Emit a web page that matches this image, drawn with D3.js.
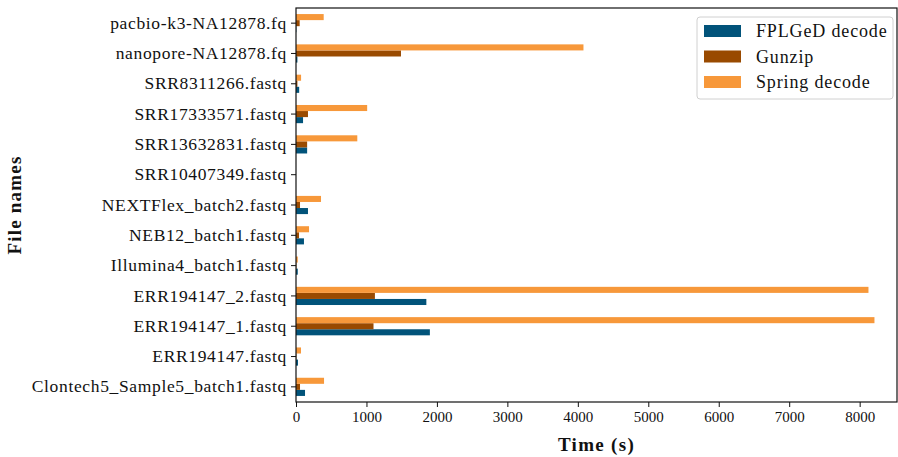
<!DOCTYPE html>
<html>
<head>
<meta charset="utf-8">
<script src="https://cdn.jsdelivr.net/npm/d3@7"></script>
<style>
  body { margin: 0; background: #fff; }
  svg { display: block; }
  text { font-family: "Liberation Serif", "DejaVu Serif", serif; fill: #111; }
</style>
</head>
<body>
<svg id="chart" width="898" height="457"></svg>
<script>
// Categories listed top to bottom
const categories = [
  "pacbio-k3-NA12878.fq",
  "nanopore-NA12878.fq",
  "SRR8311266.fastq",
  "SRR17333571.fastq",
  "SRR13632831.fastq",
  "SRR10407349.fastq",
  "NEXTFlex_batch2.fastq",
  "NEB12_batch1.fastq",
  "Illumina4_batch1.fastq",
  "ERR194147_2.fastq",
  "ERR194147_1.fastq",
  "ERR194147.fastq",
  "Clontech5_Sample5_batch1.fastq"
];
const seriesNames = ["FPLGeD decode", "Gunzip", "Spring decode"];
const fplgedDecode = [5, 20, 45, 100, 158, 0, 170, 113, 25, 1850, 1900, 28, 128];
const gunzip       = [52, 1490, 20, 170, 158, 0, 57, 43, 5, 1120, 1100, 5, 57];
const springDecode = [393, 4080, 72, 1010, 870, 0, 355, 185, 25, 8125, 8210, 71, 398];
const xTicks = [0, 1000, 2000, 3000, 4000, 5000, 6000, 7000, 8000];
const colors = ["#01537a", "#994a00", "#f7983a"];

const svg = d3.select("#chart");
const margin = { left: 296, right: 1, top: 8, bottom: 55 };
const W = 898, H = 457;
const x0 = margin.left, x1 = W - margin.right, y0 = margin.top, y1 = H - margin.bottom;

const x = d3.scaleLinear().domain([0, 8530]).range([x0, x1]);
const y = d3.scaleBand().domain(categories).range([y0, y1]).paddingInner(0).paddingOuter(0);
const step = y.step();
const barH = step * 0.2;

const seriesData = [fplgedDecode, gunzip, springDecode];
// FPLGeD below center, Gunzip centred, Spring above
const offsets = [0.2, 0, -0.2];

const g = svg.append("g");
seriesData.forEach((vals, s) => {
  g.selectAll(null)
    .data(categories.map((c, i) => ({ c, v: vals[i] })))
    .enter()
    .append("rect")
    .attr("x", x(0))
    .attr("y", d => y(d.c) + step / 2 + offsets[s] * step - barH / 2)
    .attr("width", d => x(d.v) - x(0))
    .attr("height", barH)
    .attr("fill", colors[s]);
});

// Axes
const xAxis = d3.axisBottom(x).tickValues(xTicks).tickSize(5).tickPadding(4).tickFormat(d3.format("d"));
const xg = svg.append("g").attr("transform", `translate(0,${y1})`).call(xAxis);
xg.select(".domain").remove();
xg.selectAll("line").attr("stroke", "#111").attr("stroke-width", 1);
xg.selectAll("text").attr("font-size", 15).attr("font-family", "Liberation Serif, serif").attr("fill", "#111");

const yAxis = d3.axisLeft(y).tickSize(5).tickPadding(4);
const yg = svg.append("g").attr("transform", `translate(${x0},0)`).call(yAxis);
yg.select(".domain").remove();
yg.selectAll("line").attr("stroke", "#111").attr("stroke-width", 1);
yg.selectAll("text").attr("font-size", 17.5).attr("font-family", "Liberation Serif, serif").attr("fill", "#111")
  .attr("letter-spacing", "0.65px");

// Frame
svg.append("rect").attr("x", x0).attr("y", y0).attr("width", x1 - x0).attr("height", y1 - y0)
  .attr("fill", "none").attr("stroke", "#111").attr("stroke-width", 1.2);

// Axis labels
svg.append("text").attr("x", (x0 + x1) / 2).attr("y", 451).attr("text-anchor", "middle")
  .attr("font-size", 19).attr("font-weight", "bold").attr("letter-spacing", "1.3px").text("Time (s)");
svg.append("text").attr("transform", `translate(21,${(y0 + y1) / 2}) rotate(-90)`).attr("text-anchor", "middle")
  .attr("font-size", 19).attr("font-weight", "bold").attr("letter-spacing", "1.2px").text("File names");

// Legend
const lg = svg.append("g").attr("transform", "translate(697,17)");
lg.append("rect").attr("width", 196).attr("height", 82).attr("rx", 3)
  .attr("fill", "#fff").attr("fill-opacity", 0.85).attr("stroke", "#d0d0d0").attr("stroke-width", 1);
seriesNames.forEach((name, i) => {
  const row = lg.append("g").attr("transform", `translate(0,${14 + i * 25.5})`);
  row.append("rect").attr("x", 7).attr("y", -6).attr("width", 37).attr("height", 12).attr("fill", colors[i]);
  row.append("text").attr("x", 59).attr("y", 6).attr("font-size", 18).attr("letter-spacing", "0.85px").text(name);
});
</script>
</body>
</html>
